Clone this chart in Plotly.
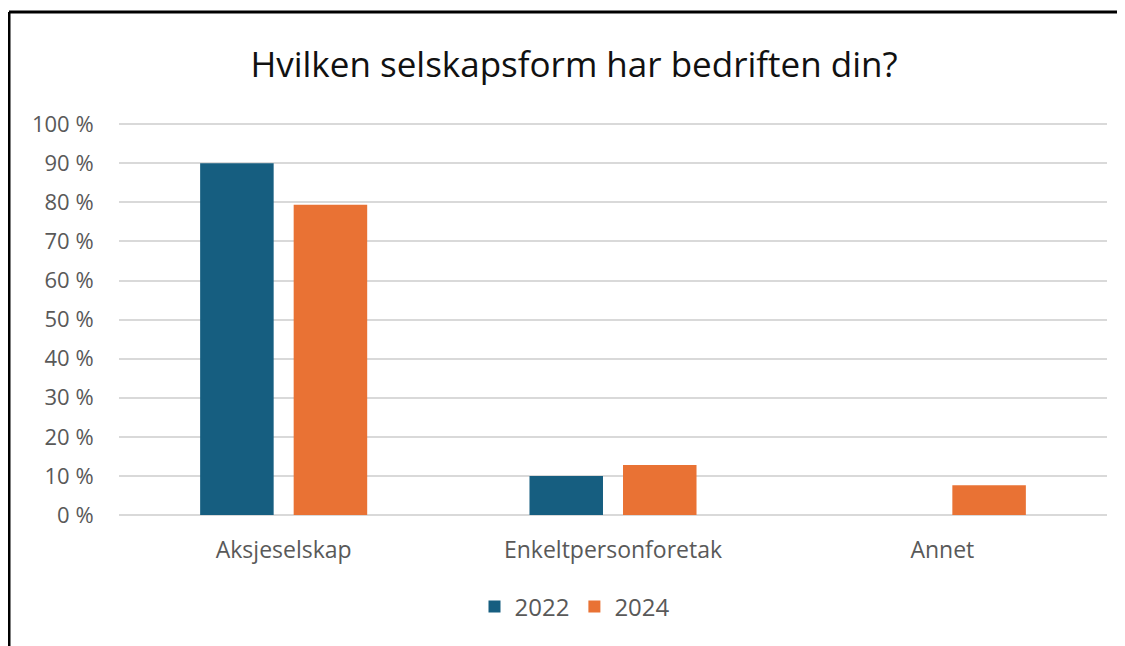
import plotly.graph_objects as go

categories = ["Aksjeselskap", "Enkeltpersonforetak", "Annet"]
values_2022 = [90.0, 10.0, 0.0]
values_2024 = [79.4, 12.8, 7.6]
tick_vals = [0, 10, 20, 30, 40, 50, 60, 70, 80, 90, 100]
tick_text = [f"{v} %" for v in tick_vals]

# page has an 8px body margin; figure coords = screenshot coords - 8
OFF = 8
W, H = 1117, 638
L, R, T, B = 111, 18, 115, 131
pw, ph = W - L - R, H - T - B

def px_x(x):
    return (x - OFF - L) / pw

def px_y(y):
    return (H - B - (y - OFF)) / ph

fig = go.Figure()
fig.add_trace(go.Bar(name="2022", x=categories, y=values_2022,
                     marker=dict(color="#165E80", line=dict(width=0))))
fig.add_trace(go.Bar(name="2024", x=categories, y=values_2024,
                     marker=dict(color="#E97234", line=dict(width=0))))

gray = "#595959"
font_family = "Open Sans"
fig.update_layout(
    width=W, height=H,
    margin=dict(l=L, r=R, t=T, b=B, autoexpand=False),
    paper_bgcolor="white", plot_bgcolor="white",
    barmode="group", bargap=0.432, bargroupgap=0.214,
    title=dict(text="Hvilken selskapsform har bedriften din?", x=(574 - OFF) / W, xanchor="center",
               y=1 - (65 - OFF) / H, yanchor="middle", yref="container",
               font=dict(family=font_family, size=35, color="#111111")),
    showlegend=True,
    legend=dict(orientation="h", x=px_x(575), xanchor="center", y=px_y(607), yanchor="middle",
                font=dict(family=font_family, size=24, color=gray), traceorder="normal"),
    xaxis=dict(showgrid=False, showline=False, ticks="outside", ticklen=14,
               tickcolor="rgba(0,0,0,0)", tickfont=dict(family=font_family, size=23, color=gray)),
    yaxis=dict(range=[0, 100.3], tickvals=tick_vals, ticktext=tick_text,
               showgrid=True, gridcolor="#d9d9d9", gridwidth=2,
               zeroline=True, zerolinecolor="#d9d9d9", zerolinewidth=2,
               showline=False, ticks="outside", ticklen=20, tickcolor="rgba(0,0,0,0)",
               tickfont=dict(family=font_family, size=22, color=gray)),
    shapes=[
        dict(type="line", xref="paper", yref="paper", x0=px_x(9), x1=px_x(1140),
             y0=px_y(12), y1=px_y(12), line=dict(color="black", width=3), layer="above"),
        dict(type="line", xref="paper", yref="paper", x0=px_x(9), x1=px_x(9),
             y0=px_y(12), y1=px_y(660), line=dict(color="black", width=3), layer="above"),
    ],
)

fig.write_html("out.html")
